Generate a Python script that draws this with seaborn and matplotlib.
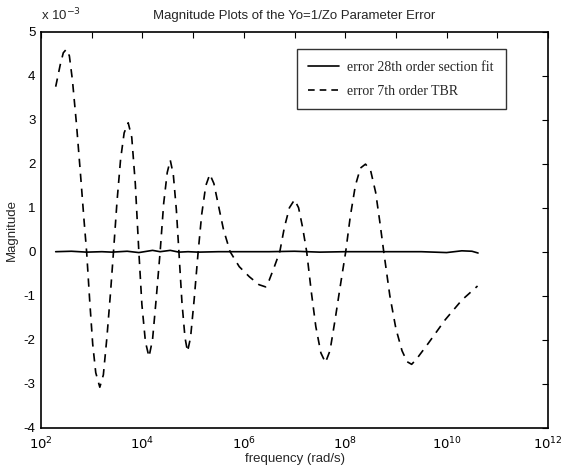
import numpy as np
import pandas as pd
import matplotlib
matplotlib.use("Agg")
import matplotlib.pyplot as plt
import matplotlib.ticker as mticker
import seaborn as sns

# ---------------------------------------------------------
# Daten, Frequenz als log10-Exponent, Werte in 1e-3
# ---------------------------------------------------------
tbr_exp = [2.29, 2.38, 2.44, 2.50, 2.56, 2.62, 2.70, 2.78, 2.85, 2.90,
           2.96, 3.02, 3.08, 3.16, 3.23, 3.30, 3.37, 3.43, 3.50, 3.57,
           3.64, 3.72, 3.79, 3.86, 3.93, 3.99, 4.06, 4.13, 4.20, 4.27,
           4.35, 4.42, 4.49, 4.55, 4.61, 4.67, 4.72, 4.78, 4.84, 4.89,
           4.95, 5.02, 5.10, 5.17, 5.25, 5.33, 5.41, 5.50, 5.60, 5.73,
           5.91, 6.11, 6.30, 6.43, 6.50, 6.60, 6.71, 6.80, 6.90, 7.00,
           7.08, 7.16, 7.24, 7.33, 7.42, 7.52, 7.61, 7.70, 7.80, 7.90,
           8.01, 8.10, 8.20, 8.30, 8.40, 8.50, 8.60, 8.68, 8.76, 8.88,
           9.00, 9.12, 9.22, 9.31, 9.40, 9.64, 9.97, 10.30, 10.61]
tbr_err = [3.75, 4.25, 4.52, 4.60, 4.45, 3.90, 2.90, 1.75, 0.70, 0.00,
           -1.10, -2.10, -2.75, -3.08, -2.80, -1.95, -0.95, 0.00, 1.15, 2.10,
           2.70, 2.93, 2.60, 1.55, 0.00, -1.20, -2.05, -2.39, -2.00, -1.10,
           0.00, 1.10, 1.80, 2.08, 1.75, 0.95, 0.00, -1.15, -1.95, -2.27,
           -1.95, -1.10, 0.00, 0.85, 1.50, 1.76, 1.55, 1.05, 0.50, 0.00,
           -0.34, -0.57, -0.75, -0.80, -0.65, -0.35, 0.00, 0.55, 1.00, 1.18,
           1.00, 0.55, 0.00, -0.90, -1.70, -2.30, -2.52, -2.25, -1.55, -0.80,
           0.00, 0.80, 1.50, 1.90, 1.99, 1.85, 1.35, 0.70, 0.00, -1.00,
           -1.75, -2.25, -2.50, -2.56, -2.45, -2.08, -1.55, -1.10, -0.78]

fit_exp = [2.29, 2.60, 2.90, 3.20, 3.40, 3.70, 3.93, 4.20, 4.35, 4.55,
           4.72, 4.90, 5.10, 5.50, 6.00, 6.50, 7.00, 7.50, 8.00, 8.50,
           9.00, 9.50, 10.00, 10.30, 10.50, 10.62]
fit_err = [0.00, 0.01, -0.01, 0.00, -0.01, 0.01, -0.02, 0.03, 0.00, 0.03,
           -0.01, 0.00, -0.01, 0.00, 0.00, 0.00, 0.01, -0.01, 0.00, 0.00,
           0.00, 0.00, -0.02, 0.02, 0.01, -0.03]

x_ticks_exp = list(range(2, 13))
y_ticks = [-4, -3, -2, -1, 0, 1, 2, 3, 4, 5]

df_tbr = pd.DataFrame({"freq": 10.0 ** np.array(tbr_exp), "err": tbr_err})
df_fit = pd.DataFrame({"freq": 10.0 ** np.array(fit_exp), "err": fit_err})

# ---------------------------------------------------------
# Plot
# ---------------------------------------------------------
sns.set_style("white")
plt.rcParams["font.family"] = ["Liberation Sans", "DejaVu Sans"]

fig = plt.figure(figsize=(5.63, 4.66), dpi=100)
ax = fig.add_axes([0.0728, 0.0822, 0.9006, 0.8498])

sns.lineplot(data=df_fit, x="freq", y="err", ax=ax, color="black", lw=1.2,
             estimator=None, label="error 28th order section fit")
sns.lineplot(data=df_tbr, x="freq", y="err", ax=ax, color="black", lw=1.2,
             estimator=None, label="error 7th order TBR")
ax.lines[1].set_dashes([5, 4])

ax.set_xscale("log")
ax.set_xlim(1e2, 1e12)
ax.set_ylim(-4, 5)
ax.xaxis.set_major_locator(mticker.FixedLocator([10.0 ** e for e in x_ticks_exp]))
ax.xaxis.set_minor_locator(mticker.NullLocator())
ax.xaxis.set_major_formatter(mticker.FuncFormatter(
    lambda v, p: "$10^{%d}$" % round(np.log10(v)) if round(np.log10(v)) % 2 == 0 else ""))
ax.set_yticks(y_ticks)
ax.set_yticklabels([str(t) for t in y_ticks])

ax.tick_params(direction="in", length=4, width=0.8, top=True, right=True,
               labelsize=9.5, colors="black")
ax.tick_params(axis="x", pad=6)
ax.tick_params(axis="y", pad=4)
for s in ax.spines.values():
    s.set_visible(True)
    s.set_color("black")
    s.set_linewidth(1.2)

ax.set_title("Magnitude Plots of the Yo=1/Zo Parameter Error", fontsize=9.5, pad=9)
ax.set_xlabel("frequency (rad/s)", fontsize=9.5, labelpad=0)
ax.set_ylabel("Magnitude", fontsize=9.5, labelpad=4)
ax.text(0.0, 1.02, r"x 10$^{-3}$", transform=ax.transAxes, fontsize=9.5,
        ha="left", va="bottom")

leg = ax.legend(loc="upper right", bbox_to_anchor=(0.93, 0.973),
                prop={"family": "Liberation Serif", "size": 10},
                frameon=True, fancybox=False, edgecolor="black",
                handlelength=2.2, handletextpad=0.6, borderpad=0.85,
                labelspacing=0.75)
leg.get_frame().set_linewidth(1.0)
leg.get_lines()[1].set_dashes([4, 3])

fig.savefig("out.png", dpi=100)
print("[INFO] out.png gespeichert")
